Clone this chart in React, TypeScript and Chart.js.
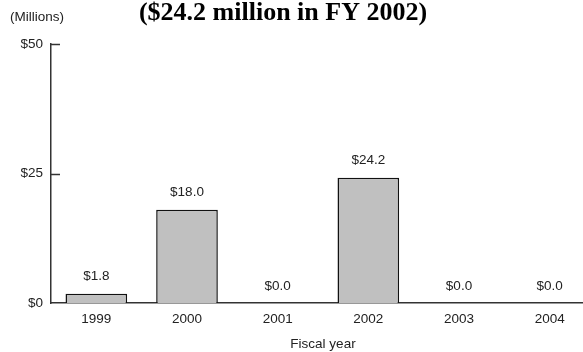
import React, { useEffect, useRef } from "react";
import { Chart, registerables } from "chart.js";

Chart.register(...registerables);

const categories = ["1999", "2000", "2001", "2002", "2003", "2004"];
const values = [1.8, 18.0, 0.0, 24.2, 0.0, 0.0];
const yTicks = [0, 25, 50];
const titleText = "($24.2 million in FY 2002)";
const unitText = "(Millions)";
const xTitle = "Fiscal year";

const SANS = "'Liberation Sans Narrow', 'Liberation Sans', Arial, sans-serif";
const FS = 13.5;

export default function App() {
  const ref = useRef<HTMLCanvasElement | null>(null);

  useEffect(() => {
    if (!ref.current) return;
    const textPlugin = {
      id: "extraText",
      afterDraw(chart: any) {
        const ctx = chart.ctx;
        const y = chart.scales.y;
        const area = chart.chartArea;
        ctx.save();
        // inward tick marks
        ctx.strokeStyle = "#333";
        ctx.lineWidth = 1.5;
        yTicks.forEach((v) => {
          if (v === 0) return;
          const py = Math.round(y.getPixelForValue(v)) + 0.5;
          ctx.beginPath();
          ctx.moveTo(area.left, py);
          ctx.lineTo(area.left + 9, py);
          ctx.stroke();
        });
        // value labels
        ctx.fillStyle = "#222";
        ctx.font = FS + "px " + SANS;
        ctx.textAlign = "center";
        ctx.textBaseline = "middle";
        const meta = chart.getDatasetMeta(0);
        meta.data.forEach((bar: any, i: number) => {
          ctx.fillText("$" + values[i].toFixed(1), bar.x, bar.y - 17);
        });
        // title
        ctx.fillStyle = "#000";
        ctx.font = "bold 26px 'Liberation Serif', 'Times New Roman', serif";
        ctx.textBaseline = "alphabetic";
        ctx.fillText(titleText, 283, 20);
        // units
        ctx.fillStyle = "#222";
        ctx.font = FS + "px " + SANS;
        ctx.textAlign = "left";
        ctx.textBaseline = "middle";
        ctx.fillText(unitText, 10, 17);
        ctx.restore();
      },
    };

    const chart = new Chart(ref.current, {
      type: "bar",
      data: {
        labels: categories,
        datasets: [
          {
            data: values,
            backgroundColor: "#c0c0c0",
            borderColor: "#111",
            borderWidth: 1.5,
            barPercentage: 0.68,
            categoryPercentage: 1,
          },
        ],
      },
      options: {
        responsive: false,
        animation: false,
        layout: { padding: { top: 44, right: 5, left: 0, bottom: 0 } },
        plugins: {
          legend: { display: false },
          title: { display: false },
          tooltip: { enabled: false },
        },
        scales: {
          x: {
            grid: { display: false, drawTicks: false },
            border: { display: true, color: "#333", width: 1.5 },
            ticks: {
              color: "#222",
              font: { family: SANS, size: FS },
              padding: 8,
            },
            title: {
              display: true,
              text: xTitle,
              color: "#222",
              font: { family: SANS, size: FS },
              padding: { top: 3, bottom: 0 },
            },
            afterFit(scale: any) {
              scale.height = 49;
            },
          },
          y: {
            min: 0,
            max: 50,
            afterBuildTicks(scale: any) {
              scale.ticks = yTicks.map((v) => ({ value: v }));
            },
            grid: { display: false, drawTicks: false },
            border: { display: true, color: "#333", width: 1.5 },
            ticks: {
              color: "#222",
              font: { family: SANS, size: FS },
              padding: 8,
              callback: (v: any) => "$" + v,
            },
            afterFit(scale: any) {
              scale.width = 51;
            },
          },
        },
      },
      plugins: [textPlugin],
    });
    return () => chart.destroy();
  }, []);

  return (
    <div
      style={{
        position: "fixed",
        left: 0,
        top: 0,
        width: 583,
        height: 352,
        overflow: "hidden",
        background: "#fff",
      }}
    >
      <canvas ref={ref} width={600} height={352} style={{ width: 600, height: 352 }} />
    </div>
  );
}
